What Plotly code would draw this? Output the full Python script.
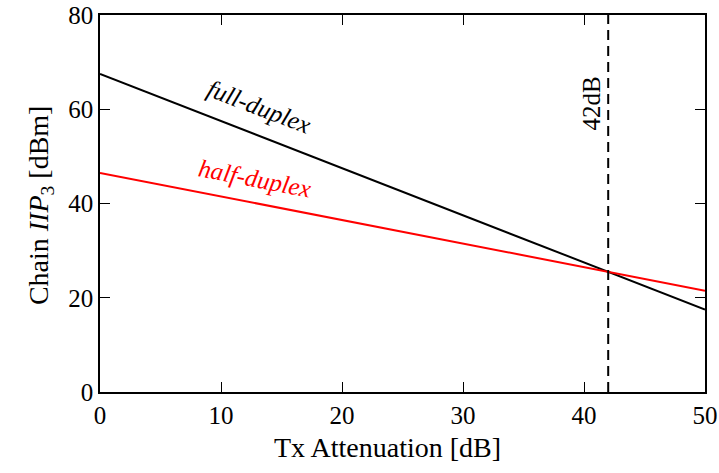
import plotly.graph_objects as go

# Data
atten = [0, 50]
full_duplex = [67.5, 17.5]
half_duplex = [46.5, 21.5]
marker_x = [42, 42]
marker_y = [0, 80]
x_ticks = [0, 10, 20, 30, 40, 50]
y_ticks = [0, 20, 40, 60, 80]

FONT = "Liberation Serif"

fig = go.Figure()
fig.add_trace(go.Scatter(x=atten, y=full_duplex, mode="lines",
                         line=dict(color="black", width=2), showlegend=False))
fig.add_trace(go.Scatter(x=atten, y=half_duplex, mode="lines",
                         line=dict(color="#ff0000", width=2), showlegend=False))
fig.add_trace(go.Scatter(x=marker_x, y=marker_y, mode="lines",
                         line=dict(color="black", width=2, dash="10px,6px"), showlegend=False))

fig.add_annotation(x=13.1, y=60.6, text="<i>full-duplex</i>", showarrow=False,
                   textangle=21, font=dict(family=FONT, size=25, color="black"))
fig.add_annotation(x=12.8, y=45.4, text="<i>half-duplex</i>", showarrow=False,
                   textangle=11, font=dict(family=FONT, size=25, color="#ff0000"))
fig.add_annotation(x=40.6, y=61.3, text="42dB", showarrow=False,
                   textangle=-90, font=dict(family=FONT, size=25, color="black"))

# Axis titles
fig.add_annotation(xref="paper", yref="paper", x=0.476, y=-0.148,
                   text="Tx Attenuation [dB]", showarrow=False,
                   xanchor="center", yanchor="middle",
                   font=dict(family=FONT, size=28, color="black"))
fig.add_annotation(xref="paper", yref="paper", x=-0.099, y=0.496,
                   text="Chain <i>IIP</i><sub>3</sub> [dBm]", showarrow=False, textangle=-90,
                   xanchor="center", yanchor="middle",
                   font=dict(family=FONT, size=28, color="black"))

axis_common = dict(showline=True, linecolor="black", linewidth=1.5, mirror="ticks",
                   ticks="inside", ticklen=10, tickwidth=1, tickcolor="black",
                   showgrid=False, zeroline=False, automargin=False,
                   tickfont=dict(family=FONT, size=25, color="black"))

fig.update_xaxes(range=[0, 50], tickvals=x_ticks, **axis_common)
fig.update_yaxes(range=[0, 80], tickvals=y_ticks, **axis_common)

fig.update_layout(width=719, height=473, margin=dict(l=100, r=14, t=15, b=81),
                  plot_bgcolor="white", paper_bgcolor="white",
                  font=dict(family=FONT, color="black"))

fig.write_html("out.html")
